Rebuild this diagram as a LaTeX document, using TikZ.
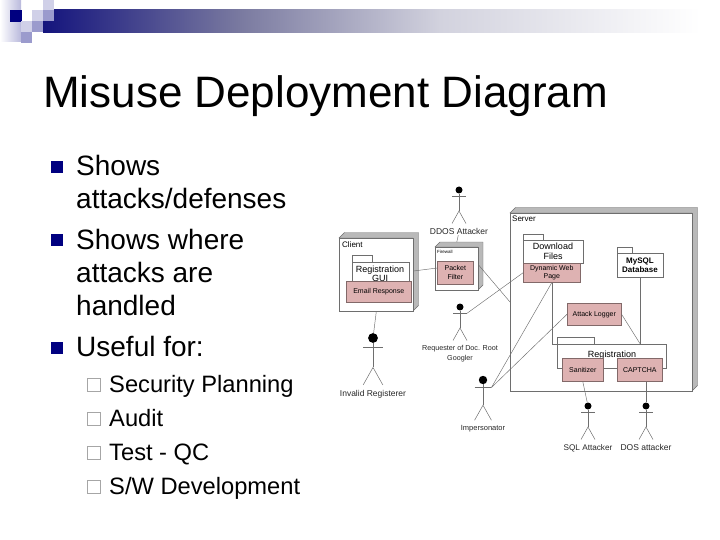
\documentclass[tikz,border=0pt]{standalone}
\usepackage{fontspec}
\setmainfont{Liberation Sans}
\usetikzlibrary{positioning,shapes,arrows,backgrounds,fit,calc}
\definecolor{bandblue}{RGB}{20,20,125}
\definecolor{bandmid}{RGB}{122,122,160}
\definecolor{bandpale}{RGB}{210,210,222}
\definecolor{squaredark}{RGB}{0,0,128}
\definecolor{squaremid}{RGB}{155,155,205}
\definecolor{squarelight}{RGB}{208,208,232}
\definecolor{rosefill}{RGB}{222,178,178}
\definecolor{rosedraw}{RGB}{130,105,105}
\definecolor{nodeside}{RGB}{185,185,185}
\definecolor{wiregray}{RGB}{110,110,110}

% actor: name, x, head y, size factor, label size, label text
\newcommand{\actor}[6]{
  \node[head, minimum size=#4*7pt] (#1) at (#2,#3) {};
  \draw[stick] ($(#1)+(-#4*7,#4*6.3)$) -- ($(#1)+(#4*7,#4*6.3)$) coordinate (#1-arm);
  \draw[stick] (#1) -- ($(#1)+(0,#4*21)$) coordinate (#1-hip);
  \draw[stick] ($(#1-hip)+(-#4*7,#4*12.5)$) -- (#1-hip) -- ($(#1-hip)+(#4*7,#4*12.5)$);
  \node[tag, font=\fontsize{#5}{9.5}\selectfont, below=#4*12.5pt+5pt of #1-hip] (#1-label) {#6};
}
% 3d node: name, left, top, right, bottom, depth
\newcommand{\cube}[6]{
  \fill[nodeside, draw=wiregray, line width=0.4pt] (#2,#3) -- ++(#6,-#6) -- (#4+#6,#3-#6) -- (#4+#6,#5-#6) -- (#4,#5) -- (#4,#3) -- cycle;
  \node[front, minimum width=#4pt-#2pt, minimum height=#5pt-#3pt, anchor=north west] (#1) at (#2,#3) {};
}
% package: name, tab left, tab top, tab right, body top, body right, body bottom
\newcommand{\package}[7]{
  \draw[frame] (#2,#5) -- (#2,#3) -- (#4,#3) -- (#4,#5);
  \node[pack, minimum width=#6pt-#2pt, minimum height=#7pt-#5pt, anchor=north west] (#1) at (#2,#5) {};
}

\begin{document}
\begin{tikzpicture}[
    x=1pt, y=-1pt,
    slidetitle/.style={anchor=base west, inner sep=0pt, font=\fontsize{44}{44}\selectfont},
    item/.style={anchor=north west, inner sep=0pt, align=left, font=\fontsize{28}{33}\selectfont},
    subitem/.style={anchor=base west, inner sep=0pt, font=\fontsize{23.7}{24}\selectfont},
    bullet/.style={rectangle, fill=squaredark, minimum size=11.5pt, inner sep=0pt},
    checkbox/.style={rectangle, draw=gray!70, line width=0.8pt, minimum size=13pt, inner sep=0pt},
    front/.style={rectangle, draw=wiregray, fill=white, line width=0.6pt, inner sep=0pt},
    frame/.style={draw=wiregray, line width=0.5pt, fill=white},
    pack/.style={rectangle, draw=wiregray, fill=white, line width=0.5pt, inner sep=0pt},
    rose/.style={rectangle, draw=rosedraw, fill=rosefill, line width=0.6pt, inner sep=0pt, align=center, font=\fontsize{7}{8.7}\selectfont, anchor=north west},
    caption/.style={inner sep=0pt, align=center, font=\fontsize{9}{9.5}\selectfont},
    tag/.style={inner sep=0pt, align=center, text=black!85},
    head/.style={circle, fill=black, inner sep=0pt},
    stick/.style={draw=wiregray, line width=0.5pt},
    wire/.style={draw=wiregray, line width=0.45pt}
]
\useasboundingbox (0,0) rectangle (720,540);

% header
\fill[left color=white, right color=squaremid!70] (0,0) rectangle (21,42);
\shade[left color=bandblue, right color=bandmid] (43,10) rectangle (240,33);
\shade[left color=bandmid, right color=bandpale] (240,10) rectangle (440,33);
\shade[left color=bandpale, right color=white] (440,10) rectangle (700,33);
\fill[squaredark] (10,10) rectangle (22,22);
\fill[white] (22,10) rectangle (32,21);
\fill[squarelight] (43,0) rectangle (54,11);
\fill[squarelight] (32,10) rectangle (43,21);
\fill[squaremid] (43,10) rectangle (54,21);
\fill[squarelight] (21,21) rectangle (32,32);
\fill[squaremid] (32,21) rectangle (43,32);
\fill[squaremid] (21,32) rectangle (32,43);

\node[slidetitle] (title) at (43,108) {Misuse Deployment Diagram};

% left column
\node[bullet] (b1) at (57,167) {};
\node[bullet] (b2) at (57,240) {};
\node[bullet] (b3) at (57,348) {};
\node[item] (shows) at (76,155) {Shows\\attacks/defenses};
\node[item] (where) at (76,229) {Shows where\\attacks are\\handled};
\node[item] (useful) at (76,336) {Useful for:};
\foreach \y/\txt in {392/Security Planning, 426/Audit, 460/Test - QC, 494/{S/W Development}} {
  \node[checkbox] at (94,\y-7) {};
  \node[subitem] at (109,\y) {\txt};
}

% server
\cube{server}{510}{213}{692}{391}{5.5}
\node[caption, font=\fontsize{8}{9.5}\selectfont, anchor=west] (serverlabel) at (512,219) {Server};
\package{download}{523}{234}{543}{240}{583}{263}
\node[caption] (downloadlabel) at (553,251.5) {Download\\Files};
\node[rose, minimum width=57pt, minimum height=19pt] (dynpage) at (523,263) {Dynamic Web\\Page};
\package{mysql}{617}{247}{632}{253}{663}{277}
\node[caption, font=\fontsize{8}{9.5}\selectfont\bfseries] (mysqllabel) at (640,265) {MySQL\\Database};
\node[rose, minimum width=54pt, minimum height=22pt] (logger) at (567,303) {Attack Logger};
\package{registration}{557}{337}{594}{344}{666}{368}
\node[caption, fill=white, inner ysep=0.5pt] (reglabel) at (612,355) {Registration};
\node[rose, minimum width=41pt, minimum height=23pt] (sanitizer) at (562,358) {Sanitizer};
\node[rose, minimum width=45pt, minimum height=23pt] (captcha) at (617,358) {CAPTCHA};

% client
\cube{client}{339}{238}{413}{311}{5.5}
\node[caption, font=\fontsize{8}{9.5}\selectfont, anchor=west] (clientlabel) at (342,245) {Client};
\package{gui}{352}{255}{372}{262}{409}{282}
\node[caption, anchor=north] (guilabel) at (380,265.5) {Registration\\GUI};
\node[rose, minimum width=65pt, minimum height=21pt] (email) at (346,281) {Email Response};

% firewall
\cube{firewall}{435}{247}{478}{290}{5}
\node[inner sep=0pt, anchor=west, font=\fontsize{4.5}{5}\selectfont] (firewalllabel) at (437,252) {Firewall};
\node[rose, minimum width=36pt, minimum height=23pt] (packet) at (437,261) {Packet\\Filter};

% actors
\actor{ddos}{459}{190}{1}{8.5}{DDOS Attacker}
\actor{invalid}{373}{338}{1.4}{8.5}{Invalid Registerer}
\actor{requester}{460}{307}{1}{7.2}{Requester of Doc. Root\\Googler}
\actor{impersonator}{483}{380}{1.2}{7.5}{Impersonator}
\actor{sql}{588}{406}{1}{8.2}{SQL Attacker}
\actor{dos}{646}{406}{1}{8.5}{DOS attacker}

% connectors
\draw[wire] (ddos-label) -- ($(firewall.north)+(0,-5)$);
\draw[wire] (client.east |- 0,271) -- (packet.west |- 0,268);
\draw[wire] (client.south) -- (invalid);
\draw[wire] (firewall.east |- 0,265) -- (server.west |- 0,302);
\draw[wire] (requester-arm) -- (dynpage.west);
\draw[wire] (impersonator-arm) -- (dynpage.south);
\draw[wire] (impersonator-arm) -- (logger.west);
\draw[wire] (dynpage.south) -- (registration.north -| dynpage.south) -- (registration.north west);
\draw[wire] (logger.east) -- (registration.north -| mysql.south);
\draw[wire] (mysql.south) -- (registration.north -| mysql.south);
\draw[wire] (sanitizer.south) -- (sql);
\draw[wire] (captcha.south -| dos) -- (dos);
\end{tikzpicture}
\end{document}
